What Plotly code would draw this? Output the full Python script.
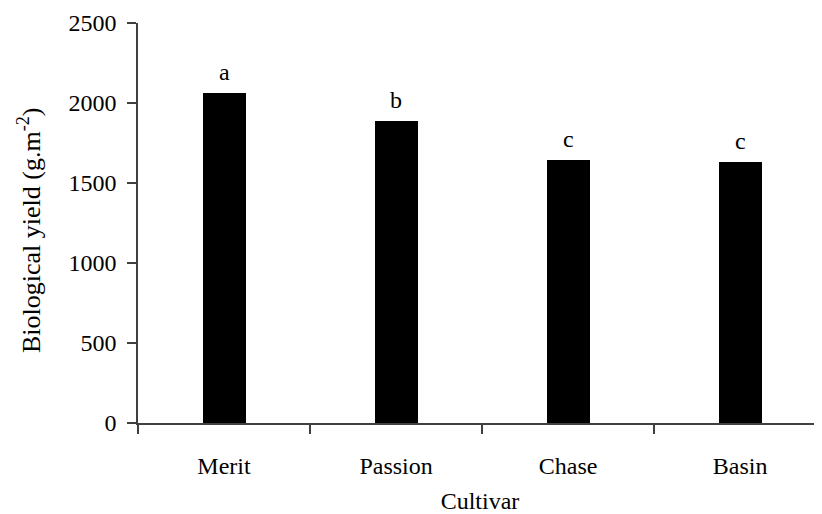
import plotly.graph_objects as go

cultivars = ["Merit", "Passion", "Chase", "Basin"]
yield_vals = [2062, 1888, 1644, 1632]
letters = ["a", "b", "c", "c"]
y_ticks = [0, 500, 1000, 1500, 2000, 2500]

FONT = "Liberation Serif, Times New Roman, serif"
AX = "#404040"
FS = 24

# page body has an 8px margin, so the figure is sized/placed to compensate
L, T, W, H = 130, 15, 814, 506
PW, PH = W - L, 400

fig = go.Figure()
fig.add_trace(go.Bar(x=cultivars, y=yield_vals, width=0.25,
                     marker=dict(color="black", line=dict(width=0))))

for c, v, l in zip(cultivars, yield_vals, letters):
    fig.add_annotation(x=c, y=v, text=l, showarrow=False, yanchor="bottom",
                       yshift=6, font=dict(family=FONT, size=FS, color="black"))

fig.add_annotation(xref="paper", yref="paper", x=(22 - L) / PW, y=1 - (222 - T) / PH,
                   text="Biological yield (g.m<sup>-2</sup>)", textangle=-90,
                   showarrow=False, xanchor="center", yanchor="middle",
                   font=dict(family=FONT, size=26, color="black"))

fig.update_layout(
    width=W, height=H,
    margin=dict(l=L, r=0, t=T, b=H - T - PH, autoexpand=False),
    plot_bgcolor="white", paper_bgcolor="white",
    showlegend=False,
    font=dict(family=FONT, size=FS, color="black"),
    bargap=0,
)
fig.update_xaxes(
    range=[-0.5, 3.5 - 4 / 172 - 0.001], showline=True, linecolor=AX, linewidth=1.5,
    ticks="outside", tickson="boundaries", ticklen=9, tickcolor=AX, tickwidth=1.5,
    showgrid=False, ticklabelstandoff=20, automargin=False,
    title=dict(text="Cultivar", standoff=20, font=dict(family=FONT, size=FS)),
)
fig.update_yaxes(
    range=[0, 2500], tickvals=y_ticks, showline=True, linecolor=AX, linewidth=1.5,
    ticks="outside", ticklen=9, tickcolor=AX, tickwidth=1.5, showgrid=False,
    zeroline=False, ticklabelstandoff=6, automargin=False,
)

fig.write_html("out.html")
